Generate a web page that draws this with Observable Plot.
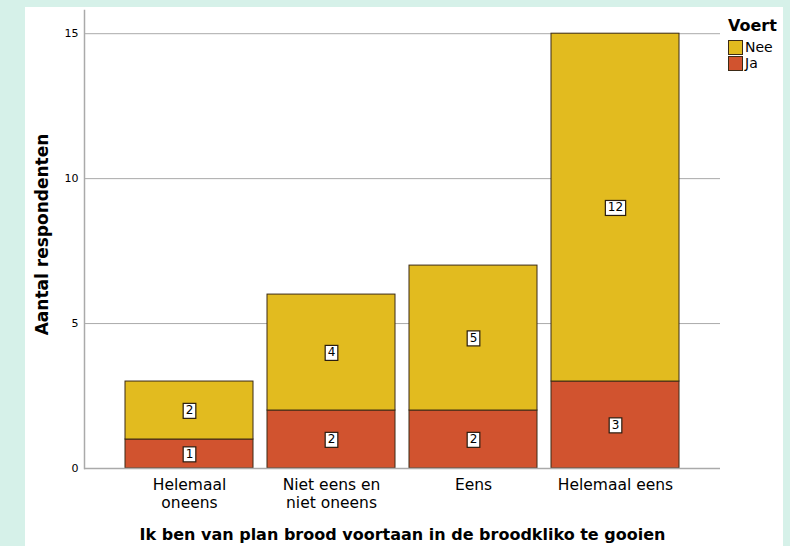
<!DOCTYPE html>
<html>
<head>
<meta charset="utf-8">
<script src="https://cdn.jsdelivr.net/npm/d3@7"></script>
<script src="https://cdn.jsdelivr.net/npm/@observablehq/plot@0.6"></script>
<style>
  html, body { margin: 0; padding: 0; }
  body { width: 790px; height: 546px; background: #d6f1e9; position: relative; overflow: hidden; font-family: "DejaVu Sans", sans-serif; }
  #panel { position: absolute; left: 25px; top: 7px; width: 758px; height: 539px; background: #fff; }
  #chart { position: absolute; left: 0; top: 0; }
  #legend { position: absolute; left: 728px; top: 16px; color: #000; }
  #legend .title { font-weight: bold; font-size: 16px; margin-bottom: 4px; }
  #legend .item { display: flex; align-items: center; font-size: 14px; height: 16px; }
  #legend .sw { width: 15px; height: 15px; border: 1px solid #3b2a16; margin-right: 2px; box-sizing: border-box; }
</style>
</head>
<body>
<div id="panel"></div>
<div id="chart"></div>
<div id="legend"></div>
<script>
const categories = ["Helemaal oneens", "Niet eens en niet oneens", "Eens", "Helemaal eens"];
const tickLabels = ["Helemaal\noneens", "Niet eens en\nniet oneens", "Eens", "Helemaal eens"];
const series = ["Nee", "Ja"];
const jaValues = [1, 2, 2, 3];
const neeValues = [2, 4, 5, 12];
const colors = { Nee: "#e2bb1f", Ja: "#d1532f" };
const yTicks = [0, 5, 10, 15];

const rows = [
  ...categories.map((c, i) => ({ cat: c, voert: "Ja", value: jaValues[i] })),
  ...categories.map((c, i) => ({ cat: c, voert: "Nee", value: neeValues[i] }))
];

const plot = Plot.plot({
  width: 790,
  height: 546,
  marginLeft: 84,
  marginRight: 70,
  marginTop: 10,
  marginBottom: 78,
  style: { background: "transparent", fontFamily: "DejaVu Sans, sans-serif", color: "#000" },
  x: { domain: categories, range: [84, 720], paddingInner: 0.1, paddingOuter: 0.274, label: null },
  y: { domain: [0, 15.8], label: null },
  color: { domain: series, range: [colors.Nee, colors.Ja] },
  marks: [
    Plot.gridY(yTicks, { stroke: "#aaa", strokeOpacity: 1, strokeWidth: 1 }),
    Plot.barY(rows, Plot.stackY({ x: "cat", y: "value", fill: "voert", stroke: "#3b2a16", strokeWidth: 1 })),
    Plot.text(rows, Plot.stackY({ x: "cat", y: "value", text: "value", fontSize: 12, fill: "#000", className: "seglabel" })),
    Plot.ruleY([0], { stroke: "#aaa", strokeWidth: 1.5 }),
    Plot.frame({ anchor: "left", stroke: "#aaa", strokeWidth: 1.5 }),
    Plot.axisY({ ticks: yTicks, tickSize: 0, tickPadding: 6, fontSize: 11, label: null }),
    Plot.axisX({ tickSize: 0, tickPadding: 9, fontSize: 15.5, lineHeight: 1.15, tickFormat: (d) => tickLabels[categories.indexOf(d)], label: null }),
    Plot.text(["Ik ben van plan brood voortaan in de broodkliko te gooien"], { frameAnchor: "bottom", dy: 71, fontSize: 16, fontWeight: "bold", text: d => d, fill: "#000" }),
    Plot.text(["Aantal respondenten"], { frameAnchor: "left", dx: -42, dy: -5, rotate: -90, textAnchor: "middle", fontSize: 17, fontWeight: "bold", text: d => d, fill: "#000" })
  ]
});
document.getElementById("chart").appendChild(plot);

// white boxes behind segment labels
const ns = "http://www.w3.org/2000/svg";
plot.querySelectorAll("g.seglabel text").forEach(t => {
  const b = t.getBBox();
  const r = document.createElementNS(ns, "rect");
  r.setAttribute("x", b.x - 2.5);
  r.setAttribute("y", b.y);
  r.setAttribute("width", b.width + 5);
  r.setAttribute("height", b.height + 1);
  r.setAttribute("fill", "#fff");
  r.setAttribute("stroke", "#2a1d10");
  r.setAttribute("stroke-width", 1.2);
  const tr = t.getAttribute("transform");
  if (tr) r.setAttribute("transform", tr);
  t.parentNode.insertBefore(r, t);
});

const legend = document.getElementById("legend");
legend.innerHTML = `<div class="title">Voert</div>` +
  series.map(s => `<div class="item"><span class="sw" style="background:${colors[s]}"></span>${s}</div>`).join("");
</script>
</body>
</html>
